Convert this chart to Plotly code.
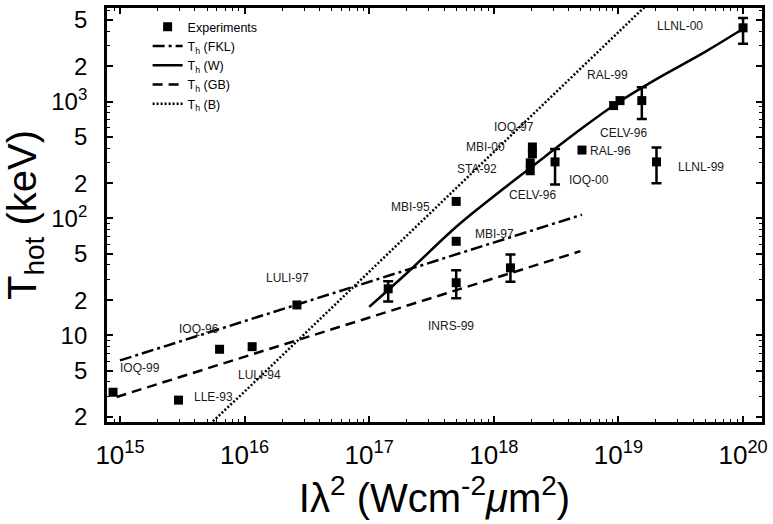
import math
import plotly.graph_objects as go

# Experimental hot-electron temperatures without error bars
exp_intensity = [8.8e14, 2.95e15, 6.3e15, 1.15e16, 2.63e16, 4.99e17, 4.99e17,
                 2.04e18, 2.04e18, 1.96e18, 1.96e18, 5.1e18, 9.15e18, 1.03e19]
exp_thot = [3.26, 2.79, 7.6, 8.0, 18.2, 63.8, 140,
            409, 357, 299, 256, 385, 925, 1020]

# Experimental points carrying error bars
err_intensity = [1.42e17, 4.99e17, 1.36e18, 3.1e18, 1.54e19, 2.02e19, 1.0e20]
err_thot = [25.0, 28.2, 37.8, 305, 1020, 305, 4280]
err_high = [29.0, 36.0, 49.2, 394, 1324, 404, 5200]
err_low = [19.5, 20.8, 28.8, 195, 711, 200, 3130]

# Scaling laws
fkl_intensity = [1.0e15, 5.1e18]
fkl_thot = [6.1, 107.7]

gb_intensity = [9.4e14, 4.95e18]
gb_thot = [2.97, 52.5]

w_intensity = [1.0e17, 2e17, 5e17, 1e18, 2e18, 5e18, 1e19, 2e19, 5e19, 1e20]
w_thot = [17.5, 34, 85, 155, 275, 582, 986, 1550, 2680, 4200]

b_intensity = [5e15, 1e16, 1e17, 1e18, 1e19, 2e19]
b_thot = [1.65, 3.3, 35, 370, 3900, 8000]

# Facility labels
label_text = ["IOQ-99", "LLE-93", "IOQ-96", "LULI-94", "LULI-97", "INRS-99",
              "MBI-97", "MBI-95", "STA-92", "MBI-00", "IOQ-97", "CELV-96",
              "IOQ-00", "RAL-96", "RAL-99", "CELV-96", "LLNL-99", "LLNL-00"]
label_x = [1.44e15, 5.6e15, 4.3e15, 1.31e16, 2.19e16, 4.5e17,
           1.01e18, 2.13e17, 7.3e17, 8.6e17, 1.44e18, 2.04e18,
           5.8e18, 8.7e18, 8.1e18, 1.1e19, 4.6e19, 3.1e19]
label_y = [5.21, 2.96, 11.4, 4.55, 30.9, 12.1,
           73.1, 126, 266, 409, 605, 160,
           215, 378, 1675, 538, 277, 4450]

tick_x_vals = [1e15, 1e16, 1e17, 1e18, 1e19, 1e20]
tick_x_text = ["10<sup>15</sup>", "10<sup>16</sup>", "10<sup>17</sup>",
               "10<sup>18</sup>", "10<sup>19</sup>", "10<sup>20</sup>"]
tick_y_vals = [2, 5, 10, 20, 50, 100, 200, 500, 1000, 2000, 5000]
tick_y_text = ["2", "5", "10", "2", "5", "10<sup>2</sup>", "2", "5",
               "10<sup>3</sup>", "2", "5"]

FONT = "Liberation Sans, Arial, Helvetica, sans-serif"

fig = go.Figure()

fig.add_trace(go.Scatter(
    x=exp_intensity, y=exp_thot, mode="markers", name="Experiments",
    marker=dict(symbol="square", size=9, color="black"),
))
fig.add_trace(go.Scatter(
    x=fkl_intensity, y=fkl_thot, mode="lines", name="T<sub>h</sub> (FKL)",
    line=dict(color="black", width=2.5, dash="12px,4px,3px,4px"),
))
fig.add_trace(go.Scatter(
    x=w_intensity, y=w_thot, mode="lines", name="T<sub>h</sub> (W)",
    line=dict(color="black", width=2.5, shape="spline"),
))
fig.add_trace(go.Scatter(
    x=gb_intensity, y=gb_thot, mode="lines", name="T<sub>h</sub> (GB)",
    line=dict(color="black", width=2.5, dash="10px,6px"),
))
fig.add_trace(go.Scatter(
    x=b_intensity, y=b_thot, mode="lines", name="T<sub>h</sub> (B)",
    line=dict(color="black", width=2.5, dash="2px,2px"),
))
fig.add_trace(go.Scatter(
    x=err_intensity, y=err_thot, mode="markers", showlegend=False,
    marker=dict(symbol="square", size=9, color="black"),
    error_y=dict(type="data", symmetric=False,
                 array=[h - v for h, v in zip(err_high, err_thot)],
                 arrayminus=[v - l for v, l in zip(err_thot, err_low)],
                 color="black", thickness=2.5, width=5),
))

# annotations on log axes are positioned in log10 units
for t, x, y in zip(label_text, label_x, label_y):
    fig.add_annotation(x=math.log10(x), y=math.log10(y), text=t, showarrow=False,
                       xref="x", yref="y",
                       font=dict(family=FONT, size=12, color="#1a1a1a"))

axis_common = dict(
    type="log", showline=True, linecolor="black", linewidth=2.8, mirror="ticks",
    ticks="inside", ticklen=6, tickwidth=1.5, tickcolor="black",
    showgrid=False, zeroline=False,
    minor=dict(ticks="inside", ticklen=3, tickcolor="black", tickwidth=1, dtick="D1"),
)

fig.update_xaxes(**axis_common, range=[14.896, 20.152],
                 tickvals=tick_x_vals, ticktext=tick_x_text,
                 tickfont=dict(family=FONT, size=26, color="black"),
                 ticklabelstandoff=8,
                 title=dict(text="I\u03bb<sup>2</sup> (Wcm<sup>-2</sup><i>\u03bc</i>m<sup>2</sup>)",
                            font=dict(family=FONT, size=40, color="black"), standoff=8))
fig.update_yaxes(**axis_common, range=[0.2585, 3.801],
                 tickvals=tick_y_vals, ticktext=tick_y_text,
                 tickfont=dict(family=FONT, size=24, color="black"),
                 ticklabelstandoff=12,
                 title=dict(text="T<sub>hot</sub> (keV)",
                            font=dict(family=FONT, size=40, color="black"), standoff=10))

fig.update_layout(
    width=773, height=524,
    margin=dict(l=107, r=7, t=5, b=102),
    paper_bgcolor="white", plot_bgcolor="white",
    showlegend=True,
    legend=dict(x=0.062, y=0.99, xanchor="left", yanchor="top",
                bgcolor="rgba(0,0,0,0)", borderwidth=0,
                font=dict(family=FONT, size=12.5, color="black"),
                itemwidth=30, tracegroupgap=0),
)

fig.write_html("out.html")
